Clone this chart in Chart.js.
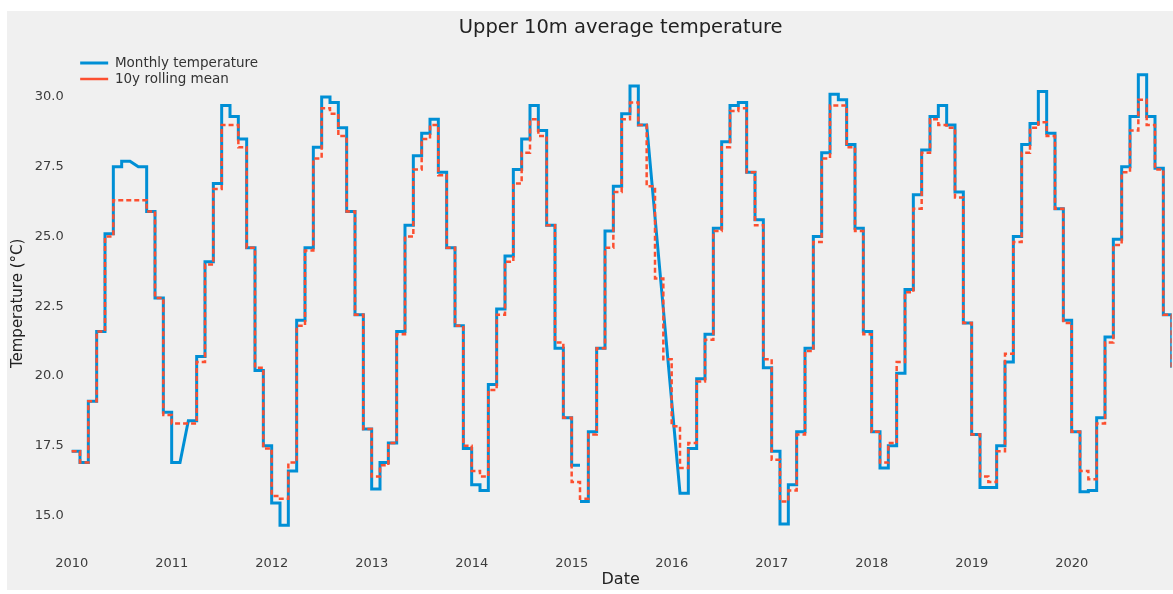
<!DOCTYPE html>
<html>
<head>
<meta charset="utf-8">
<script src="https://cdn.jsdelivr.net/npm/chart.js@4.4.1/dist/chart.umd.min.js"></script>
<style>
  html, body { margin: 0; padding: 0; background: #ffffff; }
  #wrap { position: absolute; left: 7px; top: 11px; width: 1166px; height: 579px; background: #f0f0f0; }
</style>
</head>
<body>
<div id="wrap"><canvas id="myChart" width="1166" height="579"></canvas></div>
<script>
// first month of the series (Jan 2010), one value per month
var startYear = 2010;

// Monthly temperature, null = month with no data (line joins across it)
var monthlyTemp = [
  17.3, 16.9, 19.1, 21.6, 25.1, 27.5, 27.7, null, 27.5, 25.9, 22.8, 18.7,   // 2010
  16.9, null, 18.4, 20.7, 24.1, 26.9, 29.7, 29.3, 28.5, 24.6, 20.2, 17.5,   // 2011
  15.45, 14.65, 16.6, 22.0, 24.6, 28.2, 30.0, 29.8, 28.9, 25.9, 22.2, 18.1, // 2012
  15.95, 16.9, 17.6, 21.6, 25.4, 27.9, 28.7, 29.2, 27.3, 24.6, 21.8, 17.4,  // 2013
  16.1, 15.9, 19.7, 22.4, 24.3, 27.4, 28.5, 29.7, 28.8, 25.4, 21.0, 18.5,   // 2014
  16.8, 15.5, 18.0, 21.0, 25.2, 26.8, 29.4, 30.4, 29.0, null, null, null,   // 2015
  null, 15.8, 17.4, 19.9, 21.5, 25.3, 28.4, 29.7, 29.8, 27.3, 25.6, 20.3,   // 2016
  17.3, 14.7, 16.1, 18.0, 21.0, 25.0, 28.0, 30.1, 29.9, 28.3, 25.3, 21.6,   // 2017
  18.0, 16.7, 17.5, 20.1, 23.1, 26.5, 28.1, 29.3, 29.7, 29.0, 26.6, 21.9,   // 2018
  17.9, 16.0, 16.0, 17.5, 20.5, 25.0, 28.3, 29.05, 30.2, 28.7, 26.0, 22.0,  // 2019
  18.0, 15.85, 15.9, 18.5, 21.4, 24.9, 27.5, 29.3, 30.8, 29.3, 27.45, 22.2, // 2020
  20.3                                                                       // 2021
];

// months after which the monthly line is broken
var breakAfter = ['2015-01'];

// 10y rolling mean
var rollingMean = [
  17.3, 16.9, 19.1, 21.6, 25.0, 26.3, 26.3, 26.3, 26.3, 25.9, 22.8, 18.6,   // 2010
  18.3, 18.3, 18.3, 20.5, 24.0, 26.7, 29.0, 29.0, 28.2, 24.6, 20.3, 17.4,   // 2011
  15.7, 15.6, 16.9, 21.8, 24.5, 27.8, 29.6, 29.4, 28.6, 25.9, 22.2, 18.1,   // 2012
  16.4, 16.8, 17.6, 21.5, 25.0, 27.4, 28.5, 29.0, 27.2, 24.6, 21.8, 17.5,   // 2013
  16.6, 16.4, 19.5, 22.2, 24.1, 26.9, 28.0, 29.2, 28.6, 25.4, 21.2, 18.5,   // 2014
  16.2, 15.6, 17.9, 21.0, 24.6, 26.6, 29.2, 29.8, 29.0, 26.8, 23.5, 20.6,   // 2015
  18.2, 16.7, 17.6, 19.8, 21.3, 25.2, 28.2, 29.5, 29.6, 27.3, 25.4, 20.6,   // 2016
  17.0, 15.5, 15.9, 17.9, 20.9, 24.8, 27.8, 29.7, 29.7, 28.2, 25.2, 21.5,   // 2017
  18.0, 16.9, 17.6, 20.5, 23.0, 26.0, 28.0, 29.2, 29.0, 28.9, 26.4, 21.9,   // 2018
  17.9, 16.4, 16.2, 17.3, 20.8, 24.8, 28.0, 28.9, 29.1, 28.6, 26.0, 21.9,   // 2019
  18.0, 16.6, 16.3, 18.3, 21.2, 24.7, 27.3, 28.8, 29.9, 29.0, 27.4, 22.2,   // 2020
  20.3                                                                       // 2021
];

var yearTicks = [2010, 2011, 2012, 2013, 2014, 2015, 2016, 2017, 2018, 2019, 2020];
var tempTicks = [15.0, 17.5, 20.0, 22.5, 25.0, 27.5, 30.0];

function monthKey(i) {
  var y = startYear + Math.floor(i / 12);
  var m = (i % 12) + 1;
  return y + '-' + (m < 10 ? '0' + m : m);
}

// each monthly value is held flat over its month (step look)
function toSteps(values, breaks) {
  var pts = [];
  values.forEach(function(v, i) {
    if (v === null) return;
    var x0 = startYear + i / 12;
    pts.push({x: x0, y: v});
    pts.push({x: x0 + 1 / 12, y: v});
    if (breaks.indexOf(monthKey(i)) >= 0) pts.push({x: x0 + 1 / 12, y: null});
  });
  return pts;
}

Chart.defaults.font.family = "'DejaVu Sans', sans-serif";
Chart.defaults.color = '#3c3c3c';

// legend sits in the upper left corner of the plot
var legendInside = {
  id: 'legendInside',
  afterLayout: function(chart) {
    var lg = chart.legend;
    var w = lg.right - lg.left;
    var h = lg.bottom - lg.top;
    lg.left = chart.chartArea.left + 8;
    lg.right = lg.left + w;
    lg.top = chart.chartArea.top;
    lg.bottom = lg.top + h;
  }
};

var ctx = document.getElementById('myChart');

new Chart(ctx, {
  type: 'line',
  data: {
    datasets: [{
      label: 'Monthly temperature',
      data: toSteps(monthlyTemp, breakAfter),
      borderColor: '#008fd5',
      backgroundColor: '#008fd5',
      borderWidth: 3,
      pointRadius: 0,
      tension: 0,
      order: 1
    }, {
      label: '10y rolling mean',
      data: toSteps(rollingMean, []),
      borderColor: '#fc4f30',
      backgroundColor: '#fc4f30',
      borderWidth: 2.5,
      borderDash: [5, 3],
      pointRadius: 0,
      tension: 0,
      order: 0
    }]
  },
  options: {
    responsive: false,
    animation: false,
    devicePixelRatio: 1,
    layout: { padding: { left: 0, right: 1.33, top: 0, bottom: 0 } },
    plugins: {
      title: {
        display: true,
        text: 'Upper 10m average temperature',
        fullSize: false,
        color: '#222222',
        font: { size: 19.5, weight: 'normal' },
        padding: { top: 5.4, bottom: 14.0 }
      },
      legend: {
        position: 'chartArea',
        align: 'start',
        labels: {
          boxWidth: 28,
          boxHeight: 0,
          padding: 2.5,
          color: '#333333',
          font: { size: 13.5 },
          sort: function(a, b) { return a.datasetIndex - b.datasetIndex; }
        }
      },
      tooltip: { enabled: false }
    },
    scales: {
      x: {
        type: 'linear',
        min: 2009.98,
        max: 2021.0,
        grid: { display: false, drawTicks: false },
        border: { display: false },
        afterBuildTicks: function(scale) {
          scale.ticks = yearTicks.map(function(v) { return {value: v}; });
        },
        afterFit: function(scale) { scale.height = 37.1; },
        ticks: {
          padding: 3,
          font: { size: 13 },
          callback: function(v) { return String(Math.round(v)); }
        },
        title: {
          display: true,
          text: 'Date',
          color: '#222222',
          font: { size: 16 },
          padding: { top: 0, bottom: 0.4 }
        }
      },
      y: {
        min: 13.66,
        max: 31.55,
        grid: { display: false, drawTicks: false },
        border: { display: false },
        afterBuildTicks: function(scale) {
          scale.ticks = tempTicks.map(function(v) { return {value: v}; });
        },
        afterFit: function(scale) { scale.width = 62.67; },
        ticks: {
          padding: 6,
          font: { size: 13 },
          callback: function(v) { return v.toFixed(1); }
        },
        title: {
          display: true,
          text: 'Temperature (°C)',
          color: '#222222',
          font: { size: 15 },
          padding: { top: 2, bottom: 0 }
        }
      }
    }
  },
  plugins: [legendInside]
});
</script>
</body>
</html>
